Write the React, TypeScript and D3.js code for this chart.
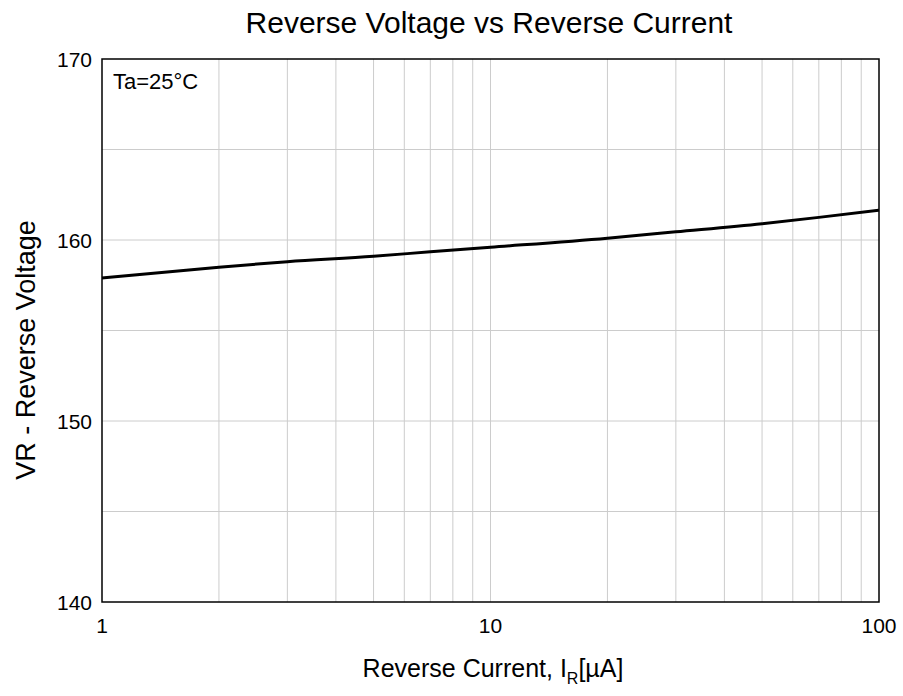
import React from 'react';
import * as d3 from 'd3';

const currents = [1, 2, 3, 5, 7, 10, 20, 30, 50, 70, 100];
const voltages = [157.9, 158.5, 158.8, 159.1, 159.35, 159.6, 160.1, 160.45, 160.9, 161.25, 161.65];
const yTicks = [140, 150, 160, 170];
const xTickLabels = [1, 10, 100];

const W = 903, H = 696;
const m = { left: 102, right: 879, top: 59, bottom: 602 };

export default function App() {
  const x = d3.scaleLog().domain([1, 100]).range([m.left, m.right]);
  const y = d3.scaleLinear().domain([140, 170]).range([m.bottom, m.top]);
  const xGrid: number[] = [];
  for (const dec of [1, 10]) for (let k = 2; k <= 9; k++) xGrid.push(dec * k);
  xGrid.push(10);
  const yGrid = d3.range(145, 170, 5);
  const line = d3.line<number>().x((_, i) => x(currents[i])).y(d => y(d)).curve(d3.curveMonotoneX);
  const font = '"Liberation Sans", Arial, sans-serif';
  return (
    <svg width={W} height={H} style={{ position: 'absolute', left: 0, top: 0, fontFamily: font }}>
      <rect width={W} height={H} fill="#fff" />
      {xGrid.map(v => (
        <line key={'x' + v} x1={x(v)} x2={x(v)} y1={m.top} y2={m.bottom} stroke="#cccccc" strokeWidth={1} />
      ))}
      {yGrid.map(v => (
        <line key={'y' + v} x1={m.left} x2={m.right} y1={y(v)} y2={y(v)} stroke="#cccccc" strokeWidth={1} />
      ))}
      <path d={line(voltages) || ''} fill="none" stroke="#000" strokeWidth={3} />
      <rect x={m.left} y={m.top} width={m.right - m.left} height={m.bottom - m.top} fill="none" stroke="#000" strokeWidth={1.5} />
      {yTicks.map(v => (
        <text key={'yt' + v} x={m.left - 10} y={y(v)} dy="0.36em" textAnchor="end" fontSize={21}>{v}</text>
      ))}
      {xTickLabels.map(v => (
        <text key={'xt' + v} x={x(v)} y={m.bottom + 31} textAnchor="middle" fontSize={21}>{v}</text>
      ))}
      <text x={113} y={89} fontSize={22}>Ta=25°C</text>
      <text x={489} y={33} textAnchor="middle" fontSize={30}>Reverse Voltage vs Reverse Current</text>
      <text transform={`translate(35, 350) rotate(-90)`} textAnchor="middle" fontSize={27}>VR - Reverse Voltage</text>
      <text x={493} y={677} textAnchor="middle" fontSize={25}>
        Reverse Current, I<tspan fontSize={16} dy={7}>R</tspan><tspan dy={-7}>[µA]</tspan>
      </text>
    </svg>
  );
}
